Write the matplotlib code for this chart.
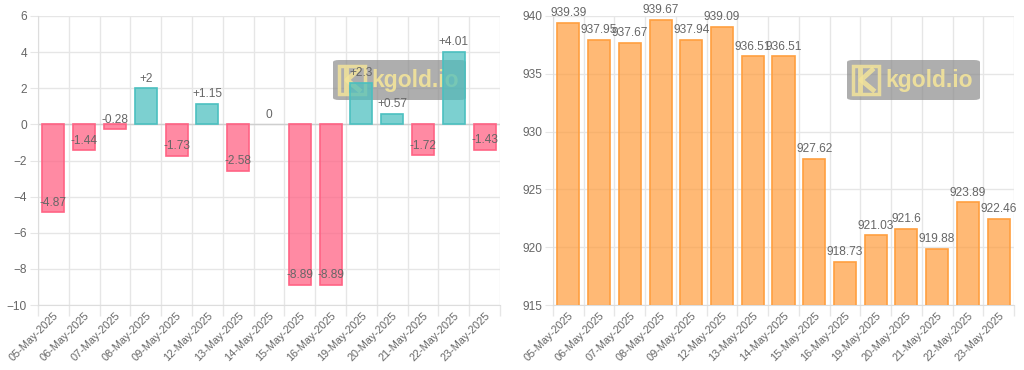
import numpy as np
import matplotlib
matplotlib.use('Agg')
import matplotlib.pyplot as plt
from matplotlib.patches import FancyBboxPatch, Rectangle
from matplotlib.lines import Line2D

plt.rcParams['font.family'] = ['Liberation Sans', 'DejaVu Sans']

dates = ['05-May-2025', '06-May-2025', '07-May-2025', '08-May-2025', '09-May-2025',
         '12-May-2025', '13-May-2025', '14-May-2025', '15-May-2025', '16-May-2025',
         '19-May-2025', '20-May-2025', '21-May-2025', '22-May-2025', '23-May-2025']
change = [-4.87, -1.44, -0.28, 2, -1.73, 1.15, -2.58, 0, -8.89, -8.89,
          2.3, 0.57, -1.72, 4.01, -1.43]
price = [939.39, 937.95, 937.67, 939.67, 937.94, 939.09, 936.51, 936.51, 927.62,
         918.73, 921.03, 921.6, 919.88, 923.89, 922.46]

TXT = '#666666'
GRID = '#e6e6e6'
FS = 8.6


def style_axes(ax, n):
    x = np.arange(n)
    ax.set_xlim(-0.5, n - 0.5)
    ax.set_xticks(x)
    ax.set_xticklabels(dates, rotation=45, ha='right', va='top',
                       rotation_mode='anchor', color=TXT, fontsize=7.9)
    ax.set_xticks(np.arange(n + 1) - 0.5, minor=True)
    ax.tick_params(axis='x', which='major', length=0, pad=4)
    ax.tick_params(axis='x', which='minor', length=8, color=GRID, width=1)
    ax.tick_params(axis='y', length=6, color=GRID, labelcolor=TXT, labelsize=FS, pad=2)
    ax.grid(axis='x', which='minor', color=GRID, lw=1)
    ax.grid(axis='y', which='major', color=GRID, lw=1)
    ax.set_axisbelow(True)
    for s in ['top', 'right']:
        ax.spines[s].set_visible(False)
    for s in ['left', 'bottom']:
        ax.spines[s].set_color('#dddddd')


def watermark(ax, x0, y0):
    # drawn inside the axes, between grid and bars
    tf = ax.figure.transFigure
    W, H = 133 / 1024, 40 / 370
    px, py = 1 / 1024, 1 / 370
    yel = '#f3e49a'
    ax.add_patch(FancyBboxPatch((x0, y0), W, H,
                                boxstyle='round,pad=0,rounding_size=0.006',
                                transform=tf, fc='#8c8c8c', ec='none',
                                alpha=0.7, zorder=2.2, clip_on=False))
    ax.add_patch(Rectangle((x0 + 6 * px, y0 + 6 * py), 26 * px, 28 * py,
                           transform=tf, fc='none', ec=yel, lw=2.5, alpha=0.85,
                           zorder=2.3, clip_on=False))
    kx, ky = x0 + 13 * px, y0 + 10 * py
    ax.add_line(Line2D([kx, kx], [ky, ky + 20 * py], transform=tf,
                       color=yel, lw=3.5, alpha=0.85, zorder=2.3, clip_on=False))
    ax.add_line(Line2D([kx + 12 * px, kx + 1 * px, kx + 13 * px],
                       [ky + 20 * py, ky + 10 * py, ky], transform=tf,
                       color=yel, lw=3.5, alpha=0.85, zorder=2.3, clip_on=False))
    ax.text(x0 + 38 * px, y0 + H / 2, 'kgold.io', transform=tf,
            color=yel, fontsize=16.5, fontweight='bold', ha='left',
            va='center', alpha=0.9, zorder=2.4, clip_on=False)


fig = plt.figure(figsize=(10.24, 3.7), dpi=100)
ax_bottom = 1 - 305 / 370
ax_h = (305 - 16) / 370
ax1 = fig.add_axes([38 / 1024, ax_bottom, (500 - 38) / 1024, ax_h])
ax2 = fig.add_axes([553 / 1024, ax_bottom, (1014 - 553) / 1024, ax_h])

# left: daily change
n = len(dates)
x = np.arange(n)
cols = [(1.0, 0.39, 0.52, 0.75) if v < 0 else (0.29, 0.75, 0.75, 0.72) for v in change]
edges = ['#ff6384' if v < 0 else '#4bc0c0' for v in change]
lws = [0 if v == 0 else 1.2 for v in change]
ax1.bar(x, change, width=0.72, color=cols, edgecolor=edges, linewidth=lws, zorder=3)
ax1.axhline(0, color='#cfcfcf', lw=1, zorder=2)
ax1.set_ylim(-10, 6)
ax1.set_yticks(np.arange(-10, 7, 2))
style_axes(ax1, n)
for xi, v in zip(x, change):
    lab = ('+%g' % v) if v > 0 else ('%g' % v)
    ax1.annotate(lab, (xi, v), xytext=(0, 7), textcoords='offset points',
                 ha='center', va='center', fontsize=FS, color=TXT, zorder=5)

# right: price
ax2.bar(x, price, width=0.72, color=(1.0, 0.62, 0.25, 0.72), edgecolor='#ff9f40',
        linewidth=1.2, zorder=3)
ax2.set_ylim(915, 940)
ax2.set_yticks(np.arange(915, 941, 5))
style_axes(ax2, n)
for xi, v in zip(x, price):
    ax2.annotate('%g' % v, (xi, v), xytext=(0, 7), textcoords='offset points',
                 ha='center', va='center', fontsize=FS, color=TXT, zorder=5,
                 annotation_clip=False)

watermark(ax1, 333 / 1024, 1 - 100 / 370)
watermark(ax2, 847 / 1024, 1 - 100 / 370)

fig.savefig('out.png', dpi=100)
